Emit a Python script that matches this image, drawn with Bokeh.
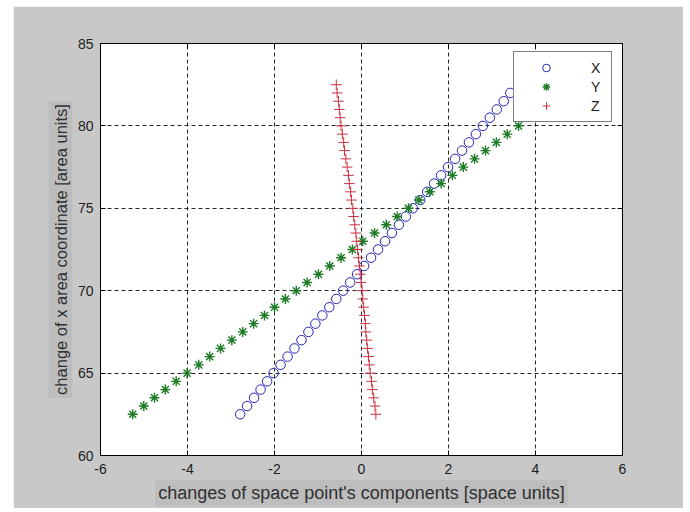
from bokeh.plotting import figure
from bokeh.models import LinearAxis, Legend, LegendItem, Title
from bokeh.embed import file_html
from bokeh.resources import INLINE

# shared area-coordinate values (y)
area_vals = [62.5, 63.0, 63.5, 64.0, 64.5, 65.0, 65.5, 66.0, 66.5, 67.0,
             67.5, 68.0, 68.5, 69.0, 69.5, 70.0, 70.5, 71.0, 71.5, 72.0,
             72.5, 73.0, 73.5, 74.0, 74.5, 75.0, 75.5, 76.0, 76.5, 77.0,
             77.5, 78.0, 78.5, 79.0, 79.5, 80.0, 80.5, 81.0, 81.5, 82.0, 82.5]

# space point components (x) -- visible points only
comp_x = [-2.79, -2.63, -2.47, -2.32, -2.17, -2.02, -1.86, -1.70, -1.54, -1.38,
          -1.22, -1.06, -0.90, -0.74, -0.58, -0.42, -0.26, -0.10, 0.06, 0.22,
          0.38, 0.54, 0.70, 0.86, 1.02, 1.18, 1.35, 1.51, 1.67, 1.83,
          1.99, 2.15, 2.31, 2.47, 2.63, 2.79, 2.95, 3.11, 3.27, 3.42]
comp_y = [-5.26, -5.005, -4.76, -4.51, -4.26, -4.01, -3.74, -3.49, -3.24, -2.98,
          -2.73, -2.48, -2.23, -2.00, -1.75, -1.50, -1.25, -0.99, -0.73, -0.47,
          -0.21, 0.03, 0.30, 0.57, 0.82, 1.08, 1.32, 1.57, 1.83, 2.09,
          2.34, 2.60, 2.85, 3.10, 3.35, 3.61]
comp_z = [0.33, 0.31, 0.28, 0.25, 0.23, 0.20, 0.18, 0.16, 0.14, 0.12,
          0.10, 0.09, 0.07, 0.05, 0.03, 0.015, -0.01, -0.03, -0.05, -0.07,
          -0.09, -0.11, -0.13, -0.155, -0.18, -0.20, -0.23, -0.25, -0.28, -0.30,
          -0.33, -0.36, -0.39, -0.41, -0.44, -0.47, -0.49, -0.51, -0.53, -0.56, -0.58]

series_names = ["X", "Y", "Z"]
x_ticks = [-6, -4, -2, 0, 2, 4, 6]
x_tick_labels = ["-6", "-4", "-2", "0", "2", "4", "6"]
y_ticks = [60, 65, 70, 75, 80, 85]
x_title = "changes of space point's components [space units]"
y_title = "change of x area coordinate [area units]"

FONT = "Liberation Sans"
BG = "#c8c8c8"
LABEL_BG = "#bdbdbd"

FW, FH = 522, 412
p = figure(frame_width=FW, frame_height=FH, x_range=(-6, 6), y_range=(60, 85),
           output_backend="svg", toolbar_location=None,
           min_border_left=87, min_border_right=61, min_border_top=37, min_border_bottom=53,
           background_fill_color="white", border_fill_color=BG,
           outline_line_color="black", outline_line_width=1,
           margin=(6, 0, 0, 13))

r1 = p.scatter(comp_x, area_vals[:len(comp_x)], marker="circle", size=9.5,
               fill_color=None, line_color="#2424b8", line_width=1)
r2 = p.scatter(comp_y, area_vals[:len(comp_y)], marker="asterisk", size=10,
               line_color="#1d7a25", line_width=1.4)
r3 = p.scatter(comp_z, area_vals[:len(comp_z)], marker="cross", size=10.5,
               line_color="#cc3040", line_width=1)

for ax, ticks in ((p.xaxis[0], x_ticks), (p.yaxis[0], y_ticks)):
    ax.ticker = ticks
    ax.major_tick_in = 5
    ax.major_tick_out = 0
    ax.minor_tick_line_color = None
    ax.axis_line_color = "black"
    ax.major_tick_line_color = "black"
    ax.major_label_text_font = FONT
    ax.major_label_text_font_size = "14px"
    ax.major_label_text_color = "#202020"

p.xaxis.major_label_overrides = dict(zip(x_ticks, x_tick_labels))
p.xaxis.major_label_standoff = 8
p.yaxis.major_label_standoff = 7

ra = LinearAxis(ticker=y_ticks, major_label_overrides={t: "" for t in y_ticks},
                major_tick_in=5, major_tick_out=0, minor_tick_line_color=None,
                axis_line_color="black")
ta = LinearAxis(ticker=x_ticks, major_label_overrides={t: "" for t in x_ticks},
                major_tick_in=5, major_tick_out=0, minor_tick_line_color=None,
                axis_line_color="black")
p.add_layout(ra, "right")
p.add_layout(ta, "above")

for g, ticks in ((p.xgrid[0], x_ticks), (p.ygrid[0], y_ticks)):
    g.ticker = ticks
    g.grid_line_color = "black"
    g.grid_line_dash = "4 3"
    g.grid_line_width = 1
    g.grid_line_alpha = 0.85

# axis titles with a shaded box
xt = Title(text=x_title, align="center", text_font=FONT, text_font_size="18px",
           text_font_style="normal", text_color="#303030",
           background_fill_color=LABEL_BG, standoff=3)
yt = Title(text=y_title, align="center", text_font=FONT, text_font_size="16.5px",
           text_font_style="normal", text_color="#303030",
           background_fill_color=LABEL_BG, standoff=4)
for t in (xt, yt):
    try:
        t.padding = 3
    except AttributeError:
        pass
p.add_layout(xt, "below")
p.add_layout(yt, "left")

legend = Legend(items=[LegendItem(label=series_names[0], renderers=[r1]),
                       LegendItem(label=series_names[1], renderers=[r2]),
                       LegendItem(label=series_names[2], renderers=[r3])],
                location=(413, 333), border_line_color="black", border_line_width=1,
                background_fill_color="white", background_fill_alpha=1,
                padding=6, spacing=0, glyph_width=52, glyph_height=19,
                label_height=19, label_width=14, label_standoff=19,
                label_text_font=FONT, label_text_font_size="14px",
                label_text_color="#202020")
p.add_layout(legend)

open("out.html", "w").write(file_html(p, INLINE))
